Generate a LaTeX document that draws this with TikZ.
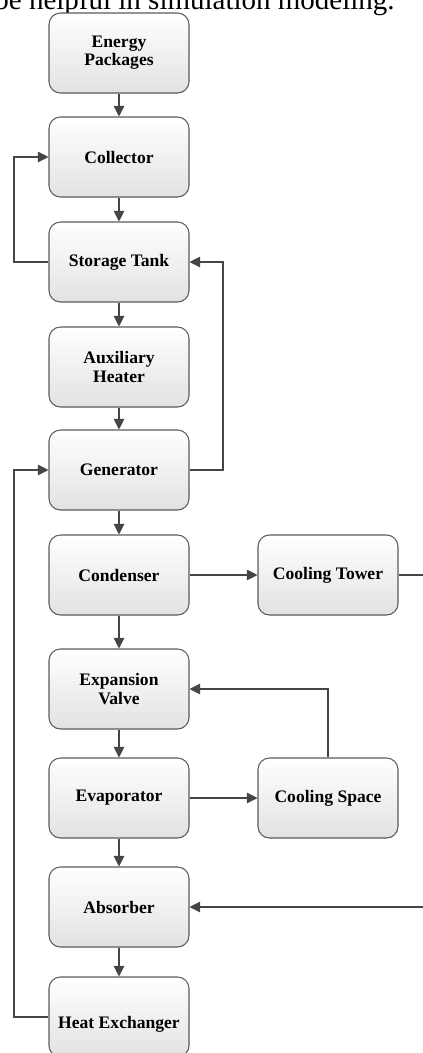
\documentclass[tikz,border=0pt]{standalone}
\usepackage{fontspec}
\setmainfont{Liberation Serif}
\usepackage{xcolor}
\usepackage{tikz}
\usetikzlibrary{arrows.meta}
\definecolor{boxline}{HTML}{5A5A5A}
\definecolor{flowline}{HTML}{454545}
\definecolor{boxshade}{HTML}{E2E2E2}
\tikzset{
  unit/.style={draw=boxline, line width=0.6pt, rounded corners=6.5pt,
    top color=white, bottom color=boxshade, minimum width=2.8cm,
    minimum height=1.6cm, align=center, inner sep=2pt,
    font=\fontsize{10}{10.4}\selectfont\bfseries},
  flow/.style={draw=flowline, line width=0.6pt,
    -{Triangle[length=6pt,width=6pt]}},
  pipe/.style={draw=flowline, line width=0.6pt}
}
\begin{document}
\begin{tikzpicture}
\useasboundingbox (0,0) rectangle (8.46,-21.06);
\clip (0,0) rectangle (8.46,-21.06);
% cut line of text above the figure
\node[anchor=base east, inner sep=0pt, font=\fontsize{16.5}{18}\selectfont] (caption) at (7.9,-0.19) {be helpful in simulation modeling.};
% main column
\node[unit] (energy) at (2.38,-1.06) {Energy\\Packages};
\node[unit] (collector) at (2.38,-3.14) {Collector};
\node[unit] (storage) at (2.38,-5.24) {Storage Tank};
\node[unit] (auxheater) at (2.38,-7.34) {Auxiliary\\Heater};
\node[unit] (generator) at (2.38,-9.40) {Generator};
\node[unit] (condenser) at (2.38,-11.50) {Condenser};
\node[unit] (expansion) at (2.38,-13.78) {Expansion\\Valve};
\node[unit] (evaporator) at (2.38,-15.96) {Evaporator};
\node[unit] (absorber) at (2.38,-18.14) {Absorber};
\node[unit] (heatex) at (2.38,-20.34) {\raisebox{-4pt}[\height][\depth]{Heat Exchanger}};
% side column
\node[unit] (tower) at (6.56,-11.50) {Cooling Tower};
\node[unit] (space) at (6.56,-15.96) {Cooling Space};
% arrows down the column
\foreach \a/\b in {energy/collector, collector/storage, storage/auxheater,
  auxheater/generator, generator/condenser, condenser/expansion,
  expansion/evaporator, evaporator/absorber, absorber/heatex}
\draw[flow] (\a) -- (\b);
% arrows to the side
\draw[flow] (condenser) -- (tower);
\draw[flow] (evaporator) -- (space);
% return loops
\coordinate (leftbus) at (0.28,0);
\coordinate (rightbus) at (4.46,0);
\coordinate (edge) at (8.62,0);
\draw[flow] (storage.west) -- (storage.west -| leftbus) |- (collector.west);
\draw[flow] (generator.east) -- (generator.east -| rightbus) |- (storage.east);
\draw[flow] (heatex.west) -- (heatex.west -| leftbus) |- (generator.west);
\draw[flow] (space.north) |- (expansion.east);
\draw[flow] (tower.east) -- (tower.east -| edge) |- (absorber.east);
\end{tikzpicture}
\end{document}
